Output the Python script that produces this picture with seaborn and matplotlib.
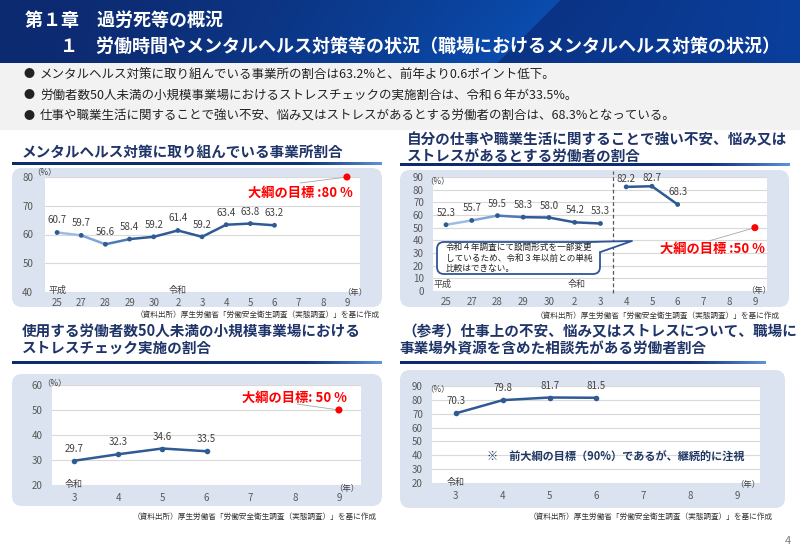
import numpy as np
import matplotlib
matplotlib.use('Agg')
import matplotlib.pyplot as plt
import matplotlib.colors as mcolors
from matplotlib.patches import FancyBboxPatch, Rectangle, Polygon
import seaborn as sns

# データ
p1_years = ['25', '27', '28', '29', '30', '2', '3', '4', '5', '6', '7', '8', '9']
p1_values = [60.7, 59.7, 56.6, 58.4, 59.2, 61.4, 59.2, 63.4, 63.8, 63.2]
p1_target = 80

p2_years = ['25', '27', '28', '29', '30', '2', '3', '4', '5', '6', '7', '8', '9']
p2_values_old = [52.3, 55.7, 59.5, 58.3, 58.0, 54.2, 53.3]
p2_values_new = [82.2, 82.7, 68.3]
p2_target = 50

p3_years = ['3', '4', '5', '6', '7', '8', '9']
p3_values = [29.7, 32.3, 34.6, 33.5]
p3_target = 50

p4_years = ['3', '4', '5', '6', '7', '8', '9']
p4_values = [70.3, 79.8, 81.7, 81.5]

header_1 = '第１章　過労死等の概況'
header_2 = '１　労働時間やメンタルヘルス対策等の状況（職場におけるメンタルヘルス対策の状況）'
bullets = ['メンタルヘルス対策に取り組んでいる事業所の割合は63.2%と、前年より0.6ポイント低下。',
           '労働者数50人未満の小規模事業場におけるストレスチェックの実施割合は、令和６年が33.5%。',
           '仕事や職業生活に関することで強い不安、悩み又はストレスがあるとする労働者の割合は、68.3%となっている。']
source = '（資料出所）厚生労働省「労働安全衛生調査（実態調査）」を基に作成'

sns.set_theme(style='white')
plt.rcParams['font.family'] = ['Noto Sans CJK JP', 'DejaVu Sans']

W, H = 800, 550
NAVY = '#1f3468'
LINE = '#2f5a94'
fig = plt.figure(figsize=(8, 5.5), dpi=100)

# 背景用の軸（ピクセル座標）
bg = fig.add_axes([0, 0, 1, 1], zorder=0)

# ヘッダーのグラデーション
yy, xx = np.mgrid[0:63, 0:W]
edge = 560 - yy * 1.0
c0 = np.array(mcolors.to_rgb('#0d2a70'))
c1 = np.array(mcolors.to_rgb('#0a4cae'))
r0 = np.array(mcolors.to_rgb('#0b3384'))
r1 = np.array(mcolors.to_rgb('#0a3f9c'))
tl = np.clip(xx / edge, 0, 1)[..., None] ** 1.6
tr = np.clip((xx - edge) / (W - edge), 0, 1)[..., None]
img = np.where((xx < edge)[..., None], c0 + (c1 - c0) * tl, r0 + (r1 - r0) * tr)
bg.imshow(img, extent=(0, W, 63, 0), aspect='auto', interpolation='bilinear')

bg.add_patch(Rectangle((0, 63), W, 67, fc='#f2f2f2', ec='none'))
bg.text(25, 20, header_1, color='white', fontsize=13, fontweight='bold', va='center')
bg.text(60, 46, header_2, color='white', fontsize=13, fontweight='bold', va='center')
for i, b in enumerate(bullets):
    y = 74 + i * 21
    bg.text(24, y, '●', fontsize=8, va='center', color='#222222')
    bg.text(40, y, b, fontsize=9, va='center', color='#222222')

# パネルの枠
def panel_box(x0, y0, x1, y1):
    bg.add_patch(FancyBboxPatch((x0, y0), x1 - x0, y1 - y0,
                                boxstyle='round,pad=0,rounding_size=10',
                                fc='#dae3ef', ec='none'))

ul_cmap = mcolors.LinearSegmentedColormap.from_list('ul', ['#0f2a6e', '#14327c', '#5d95dd'])
def underline(x0, x1, y):
    g = np.linspace(0, 1, 300)[None, :] ** 3
    bg.imshow(g, extent=(x0, x1, y + 1.5, y - 1.5), cmap=ul_cmap, aspect='auto', vmin=0, vmax=1)

panel_box(12, 168, 382, 307)
panel_box(400, 170, 789, 307)
panel_box(12, 374, 382, 506)
panel_box(400, 370, 785, 508)
underline(12, 382, 164)
underline(400, 790, 165)
underline(12, 382, 363)
underline(400, 766, 363)

tkw = dict(fontsize=10.5, fontweight='bold', color=NAVY, va='center')
bg.text(22, 152, 'メンタルヘルス対策に取り組んでいる事業所割合', **tkw)
bg.text(407, 139, '自分の仕事や職業生活に関することで強い不安、悩み又は', **tkw)
bg.text(407, 155.5, 'ストレスがあるとする労働者の割合', **tkw)
bg.text(22, 331, '使用する労働者数50人未満の小規模事業場における', **tkw)
bg.text(22, 348, 'ストレスチェック実施の割合', **tkw)
bg.text(402, 331, '（参考）仕事上の不安、悩み又はストレスについて、職場に', **tkw)
bg.text(400, 348, '事業場外資源を含めた相談先がある労働者割合', **tkw)

skw = dict(fontsize=5.5, color='#333333', ha='right', va='center')
bg.text(380, 315, source, **skw)
bg.text(780, 316, source, **skw)
bg.text(377, 517, source, **skw)
bg.text(773, 517, source, **skw)
bg.text(791, 541, '4', fontsize=8, color='#7f7f7f', ha='right', va='center')

bg.set_xlim(0, W)
bg.set_ylim(H, 0)
bg.axis('off')


def chart_ax(l, r, t, b):
    return fig.add_axes([l / W, 1 - b / H, (r - l) / W, (b - t) / H], zorder=2)


def style(ax, years, yticks, xlim, ypad, xpad):
    ax.set_facecolor('white')
    ax.set_xlim(*xlim)
    ax.set_ylim(yticks[0], yticks[-1])
    ax.set_yticks(yticks)
    ax.set_xticks(range(len(years)))
    ax.set_xticklabels(years)
    ax.tick_params(axis='both', length=0, labelsize=7, labelcolor='#595959')
    ax.tick_params(axis='y', pad=ypad)
    ax.tick_params(axis='x', pad=xpad)
    ax.yaxis.grid(True, color='#d9d9d9', lw=0.8)
    ax.set_axisbelow(True)
    for s in ax.spines.values():
        s.set_visible(False)
    ax.set_xlabel('')
    ax.set_ylabel('')


def seg_line(ax, x, vals, colors):
    for i in range(len(vals) - 1):
        ax.plot(x[i:i + 2], vals[i:i + 2], color=colors[i], lw=1.8,
                solid_capstyle='round', zorder=2)
    sns.scatterplot(x=x, y=vals, ax=ax, color=LINE, s=12, edgecolor='none', zorder=3)


def labels(ax, x, vals, offs=None):
    for i, v in enumerate(vals):
        dy = 12 if offs is None else offs[i]
        ax.annotate(f'{v:.1f}', (x[i], v), xytext=(0, dy), textcoords='offset pixels',
                    ha='center', va='center', fontsize=7, color='#404040')


def target(ax, xi, v, text, txt_off, line_off):
    sns.scatterplot(x=[xi], y=[v], ax=ax, color='#ff0000', s=26, edgecolor='none',
                    zorder=4, clip_on=False)
    ax.annotate('', xy=(xi, v), xytext=line_off, textcoords='offset pixels',
                arrowprops=dict(arrowstyle='-', color='#a6a6a6', lw=0.6, shrinkA=0, shrinkB=2))
    ax.annotate(text, xy=(xi, v), xytext=txt_off, textcoords='offset pixels',
                ha='center', va='center', fontsize=9.5, fontweight='bold', color='#ff0000')


def era(ax, xi, y, text, off):
    ax.annotate(text, (xi, y), xytext=off, textcoords='offset pixels',
                ha='center', va='center', fontsize=6.5, color='#404040', annotation_clip=False)


light_seg = ['#9cbde4', '#7fa6d6', '#4e7ab5']

# パネル1
ax1 = chart_ax(45, 360, 177, 292)
x1 = list(range(len(p1_values)))
seg_line(ax1, x1, p1_values, light_seg + [LINE] * 10)
labels(ax1, x1, p1_values)
target(ax1, 12, p1_target, '大綱の目標 :80 %', (-47, -16), (-47, -6))
style(ax1, p1_years, [40, 50, 60, 70, 80], (-0.5, 12.54), 8.5, 4.5)
era(ax1, 0, 40, '平成', (0, 2))
era(ax1, 5, 40, '令和', (0, 2))

# パネル2
ax2 = chart_ax(433, 767, 177, 291)
x2_old = list(range(len(p2_values_old)))
x2_new = [len(p2_values_old) + i for i in range(len(p2_values_new))]
seg_line(ax2, x2_old, p2_values_old, light_seg + [LINE] * 6)
seg_line(ax2, x2_new, p2_values_new, [LINE] * 3)
labels(ax2, x2_old, p2_values_old)
labels(ax2, x2_new, p2_values_new, [8, 8, 12])
target(ax2, 12, p2_target, '大綱の目標 :50 %', (-42, -21), (-45, -13))
style(ax2, p2_years, list(range(0, 91, 10)), (-0.505, 12.47), 6.5, 4.5)
ax2.axvline(6.5, ymin=-0.02, ymax=1.05, ls=(0, (3, 2)), color='#595959', lw=0.9, clip_on=False)
era(ax2, 0, 0, '平成', (-3, 7))
era(ax2, 5, 0, '令和', (2, 6))

# パネル3
ax3 = chart_ax(52, 361, 385, 485)
x3 = list(range(len(p3_values)))
sns.lineplot(x=x3, y=p3_values, ax=ax3, color=LINE, lw=1.8, marker='o', markersize=4,
             markeredgewidth=0)
labels(ax3, x3, p3_values)
target(ax3, 6, p3_target, '大綱の目標: 50 %', (-44, 12), (-42, 6))
style(ax3, p3_years, [20, 30, 40, 50, 60], (-0.5, 6.5), 6.5, 5.5)
era(ax3, 0, 20, '令和', (0, 0))

# パネル4
ax4 = chart_ax(432, 760, 386, 483)
x4 = list(range(len(p4_values)))
sns.lineplot(x=x4, y=p4_values, ax=ax4, color=LINE, lw=1.8, marker='o', markersize=4,
             markeredgewidth=0)
labels(ax4, x4, p4_values)
style(ax4, p4_years, list(range(20, 91, 10)), (-0.51, 6.49), 6.5, 5.5)
era(ax4, 0, 20, '令和', (0, 0))

# 上に重ねる注記
ov = fig.add_axes([0, 0, 1, 1], zorder=5)
ov.set_xlim(0, W)
ov.set_ylim(H, 0)
ov.axis('off')
ov.patch.set_alpha(0)

ukw = dict(fontsize=6, color='#404040', ha='center', va='center')
ov.text(44, 172, '（%）', **ukw)
ov.text(355, 292, '（年）', **ukw)
ov.text(437, 181, '（%）', **ukw)
ov.text(759, 290, '（年）', **ukw)
ov.text(54, 383, '（%）', **ukw)
ov.text(347, 489, '（年）', **ukw)
ov.text(437, 389, '（%）', **ukw)
ov.text(748, 485, '（年）', **ukw)

# 吹き出し
ov.add_patch(FancyBboxPatch((437, 242), 163, 32, boxstyle='round,pad=0,rounding_size=7',
                            fc='white', ec='#2f5597', lw=1.3, zorder=1))
ov.add_patch(Polygon([(588, 242.6), (632, 241), (600.5, 252)], closed=True,
                     fc='white', ec='none', zorder=2))
ov.plot([588, 632, 600.5], [242, 241, 252], color='#2f5597', lw=1.3, zorder=3)
ov.text(446, 258, '令和４年調査にて設問形式を一部変更\nしているため、令和３年以前との単純\n比較はできない。',
        fontsize=6.2, color='#222222', va='center', ha='left', linespacing=1.25, zorder=4)

ov.text(487, 457, '※　前大綱の目標（90%）であるが、継続的に注視', fontsize=8,
        fontweight='bold', color='#203864', va='center')

fig.savefig('out.png', dpi=100)
